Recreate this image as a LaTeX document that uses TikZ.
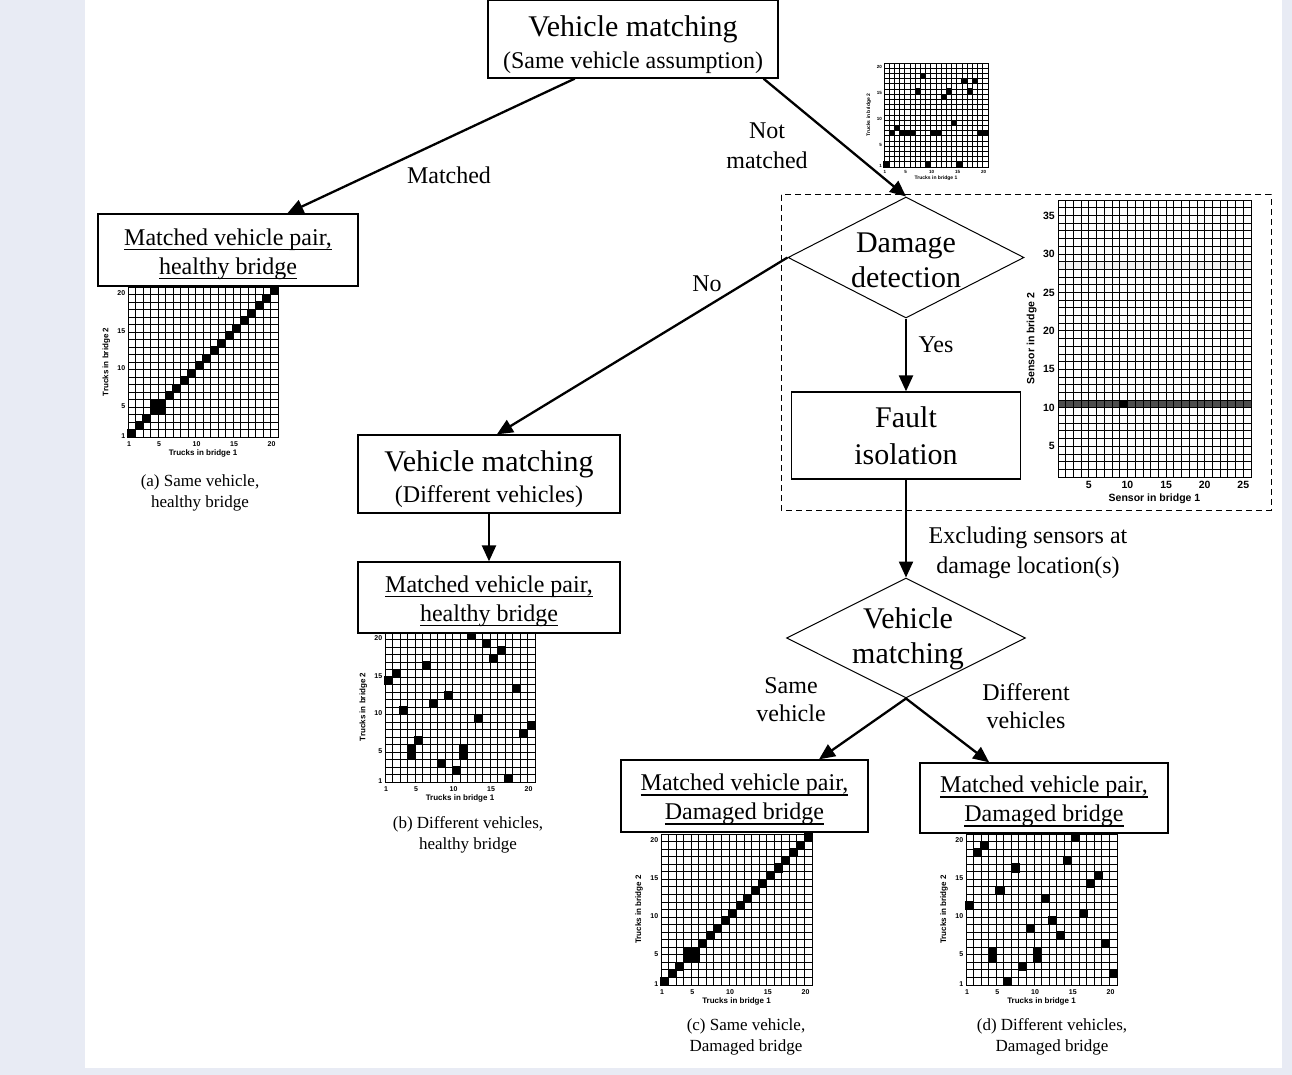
\documentclass[tikz,border=0pt]{standalone}
\usepackage{fontspec}
\setmainfont{Liberation Serif}
\newfontfamily\plotfont{Liberation Sans}
\usetikzlibrary{arrows.meta,shapes.geometric,calc}
\definecolor{pagebg}{RGB}{232,235,244}
\newcommand\uln[1]{\leavevmode\setbox0=\hbox{#1}\rlap{\vrule height -3.6pt depth 5.3pt width \wd0}\box0}
\tikzset{
  box/.style={draw, line width=1.3pt, fill=white, inner sep=0pt},
  btext/.style={align=center, inner sep=0pt, font=\fontsize{24}{29}\selectfont},
  dia/.style={draw, line width=1pt, shape=diamond, inner sep=0pt, fill=white},
  arr/.style={line width=2.3pt, -{Triangle[length=16pt,width=14pt]}},
  lbl/.style={align=center, font=\fontsize{24}{30}\selectfont, inner sep=0pt},
  dtext/.style={align=center, font=\fontsize{30}{35}\selectfont, inner sep=0pt},
  captxt/.style={align=center, font=\fontsize{17}{21}\selectfont, inner sep=0pt},
  gridln/.style={line width=0.85pt, black},
  sfont/.style={font=\plotfont\bfseries\fontsize{10.5}{10.5}\selectfont},
}
% #1 prefix, #2 left, #3 bottom, #4 cell, #5 cells, #6 tick size, #7 label size, #8 diagonal flag
\newcommand\truckgrid[8]{%
\begin{scope}[shift={(#2,#3)},x=#4pt,y=#4pt]
  \draw[gridln, step=1] (0,0) grid (20,20);
  \draw[gridln] (0,0) rectangle (20,20);
  \ifnum#8=1 \foreach \i in {1,...,20} {\fill (\i-1.1,\i-1.1) rectangle (\i+0.1,\i+0.1);}\fi
  \foreach \c/\r in {#5} {\fill (\c-1.1,\r-1.1) rectangle (\c+0.1,\r+0.1);}
  \foreach \v in {1,5,10,15,20} {
    \node[font=\plotfont\bfseries\fontsize{#6}{#6}\selectfont, inner sep=0pt] (#1x\v) at (\v-0.85,-0.95) {\v};
    \node[font=\plotfont\bfseries\fontsize{#6}{#6}\selectfont, anchor=east, inner sep=0pt] (#1y\v) at (-0.35,\v-0.85) {\v};
  }
  \node[font=\plotfont\bfseries\fontsize{#7}{#7}\selectfont, inner sep=0pt] (#1xl) at (10,-2.15) {Trucks in bridge 1};
  \node[font=\plotfont\bfseries\fontsize{#7}{#7}\selectfont, inner sep=0pt, rotate=90] (#1yl) at (-2.9,10) {Trucks in bridge 2};
\end{scope}}
\begin{document}
\begin{tikzpicture}[x=1pt,y=-1pt]
\useasboundingbox (0,0) rectangle (1292,1075);
\fill[pagebg] (0,0) rectangle (1292,1075);
\fill[white] (85,0) rectangle (1282,1068);
% dashed frame
\draw[line width=1pt, dash pattern=on 6pt off 4pt] (781,195) rectangle (1271,510);
% plots
\truckgrid{pa}{128}{437}{7.5}{4/5,5/4}{7}{8}{1}
\truckgrid{pb}{385}{782}{7.5}{12/20,14/19,16/18,15/17,6/16,2/15,1/14,18/13,9/12,7/11,3/10,13/9,20/8,19/7,5/6,4/5,4/4,11/5,11/4,8/3,10/2,17/1}{7}{8}{0}
\truckgrid{pc}{661}{985}{7.55}{4/5,5/4}{7}{8}{1}
\truckgrid{pd}{966}{985}{7.55}{15/20,3/19,2/18,14/17,7/16,18/15,17/14,5/13,11/12,1/11,16/10,12/9,9/8,13/7,19/6,4/5,4/4,10/5,10/4,8/3,20/2,6/1}{7}{8}{0}
\truckgrid{pt}{884}{167}{5.2}{8/18,16/17,18/17,7/15,13/15,17/15,12/14,14/9,3/8,2/7,4/7,5/7,6/7,10/7,11/7,19/7,20/7,1/1,9/1,15/1}{4.5}{5}{0}
% sensor plot
\begin{scope}[shift={(1058,477)},x=7.72pt,y=7.69pt]
  \fill[gray!12] (0,27) rectangle (25,28);
  \fill[gray!10] (22,30) rectangle (23,31);
  \fill[black!70] (0,9) rectangle (25,10);
  \draw[gridln, step=1] (0,0) grid (25,36);
  \draw[gridln] (0,0) rectangle (25,36);
  \fill[black] (8,9) rectangle (9,10);
  \foreach \v in {5,10,15,20,25} {\node[sfont, anchor=north, inner sep=0pt] (sx\v) at (\v-1,-0.5) {\v};}
  \foreach \v in {5,10,15,20,25,30,35} {\node[sfont, anchor=east, inner sep=0pt] (sy\v) at (-0.4,\v-1) {\v};}
  \node[sfont, inner sep=0pt] (sxl) at (12.5,-2.9) {Sensor in bridge 1};
  \node[sfont, inner sep=0pt, rotate=90] (syl) at (-3.4,18) {Sensor in bridge 2};
\end{scope}
% boxes
\node[box, minimum width=290pt, minimum height=78pt] (top) at (633,39) {};
\node[btext, font=\fontsize{24}{32}\selectfont] (topt) at (633,45)
  {{\fontsize{30}{32}\selectfont Vehicle matching}\\(Same vehicle assumption)};
\node[box, minimum width=260pt, minimum height=72pt] (boxa) at (228,250) {};
\node[btext] (boxat) at (228,254) {\uln{Matched vehicle pair,}\\\uln{healthy bridge}};
\node[box, minimum width=262pt, minimum height=78pt] (vm2) at (489,474) {};
\node[btext, font=\fontsize{24}{31}\selectfont] (vm2t) at (489,479)
  {{\fontsize{30}{31}\selectfont Vehicle matching}\\(Different vehicles)};
\node[box, minimum width=262pt, minimum height=71pt] (boxb) at (489,597.5) {};
\node[btext] (boxbt) at (489,601) {\uln{Matched vehicle pair,}\\\uln{healthy bridge}};
\node[dia, minimum width=236pt, minimum height=121pt] (dd) at (906,257.5) {};
\node[dtext] (ddt) at (906,260.5) {Damage\\detection};
\node[box, minimum width=229pt, minimum height=87pt] (fi) at (906,435.5) {};
\node[dtext, font=\fontsize{30}{37}\selectfont] (fit) at (906,436) {Fault\\isolation};
\node[dia, minimum width=239pt, minimum height=120pt] (vm3) at (906,638) {};
\node[dtext] (vm3t) at (908,639) {Vehicle\\matching};
\node[box, minimum width=247pt, minimum height=72pt] (boxc) at (744.5,796) {};
\node[btext] (boxct) at (744.5,799.5) {\uln{Matched vehicle pair,}\\\uln{Damaged bridge}};
\node[box, minimum width=248pt, minimum height=70pt] (boxd) at (1044,798) {};
\node[btext] (boxdt) at (1044,801.5) {\uln{Matched vehicle pair,}\\\uln{Damaged bridge}};
% connectors
\draw[arr] ($(top.south west)!0.3!(top.south east)$) -- ($(boxa.north west)!0.727!(boxa.north east)$);
\draw[arr] ($(top.south west)!0.948!(top.south east)$) -- (dd.north);
\draw[arr] (dd.west) -- ($(vm2.north west)!0.53!(vm2.north east)$);
\draw[arr] (dd.south) -- (fi.north);
\draw[arr] (fi.south) -- (vm3.north);
\draw[arr] (vm3.south) -- ($(boxc.north west)!0.80!(boxc.north east)$);
\draw[arr] (vm3.south) -- ($(boxd.north west)!0.28!(boxd.north east)$);
\draw[arr] (vm2.south) -- (boxb.north);
% labels
\node[lbl] (lmatched) at (449,175) {Matched};
\node[lbl] (lnot) at (767,146) {Not\\matched};
\node[lbl] (lno) at (707,284) {No};
\node[lbl] (lyes) at (936,345) {Yes};
\node[lbl] (lexcl) at (1028,553) {Excluding sensors at\\damage location(s)};
\node[lbl, font=\fontsize{24}{28}\selectfont] (lsame) at (791,700) {Same\\vehicle};
\node[lbl, font=\fontsize{24}{28}\selectfont] (ldiff) at (1026,706) {Different\\vehicles};
% captions
\node[captxt] (capa) at (200,493) {(a) Same vehicle,\\healthy bridge};
\node[captxt] (capb) at (468,835) {(b) Different vehicles,\\healthy bridge};
\node[captxt] (capc) at (746,1037) {(c) Same vehicle,\\Damaged bridge};
\node[captxt] (capd) at (1052,1037) {(d) Different vehicles,\\Damaged bridge};
\end{tikzpicture}
\end{document}
